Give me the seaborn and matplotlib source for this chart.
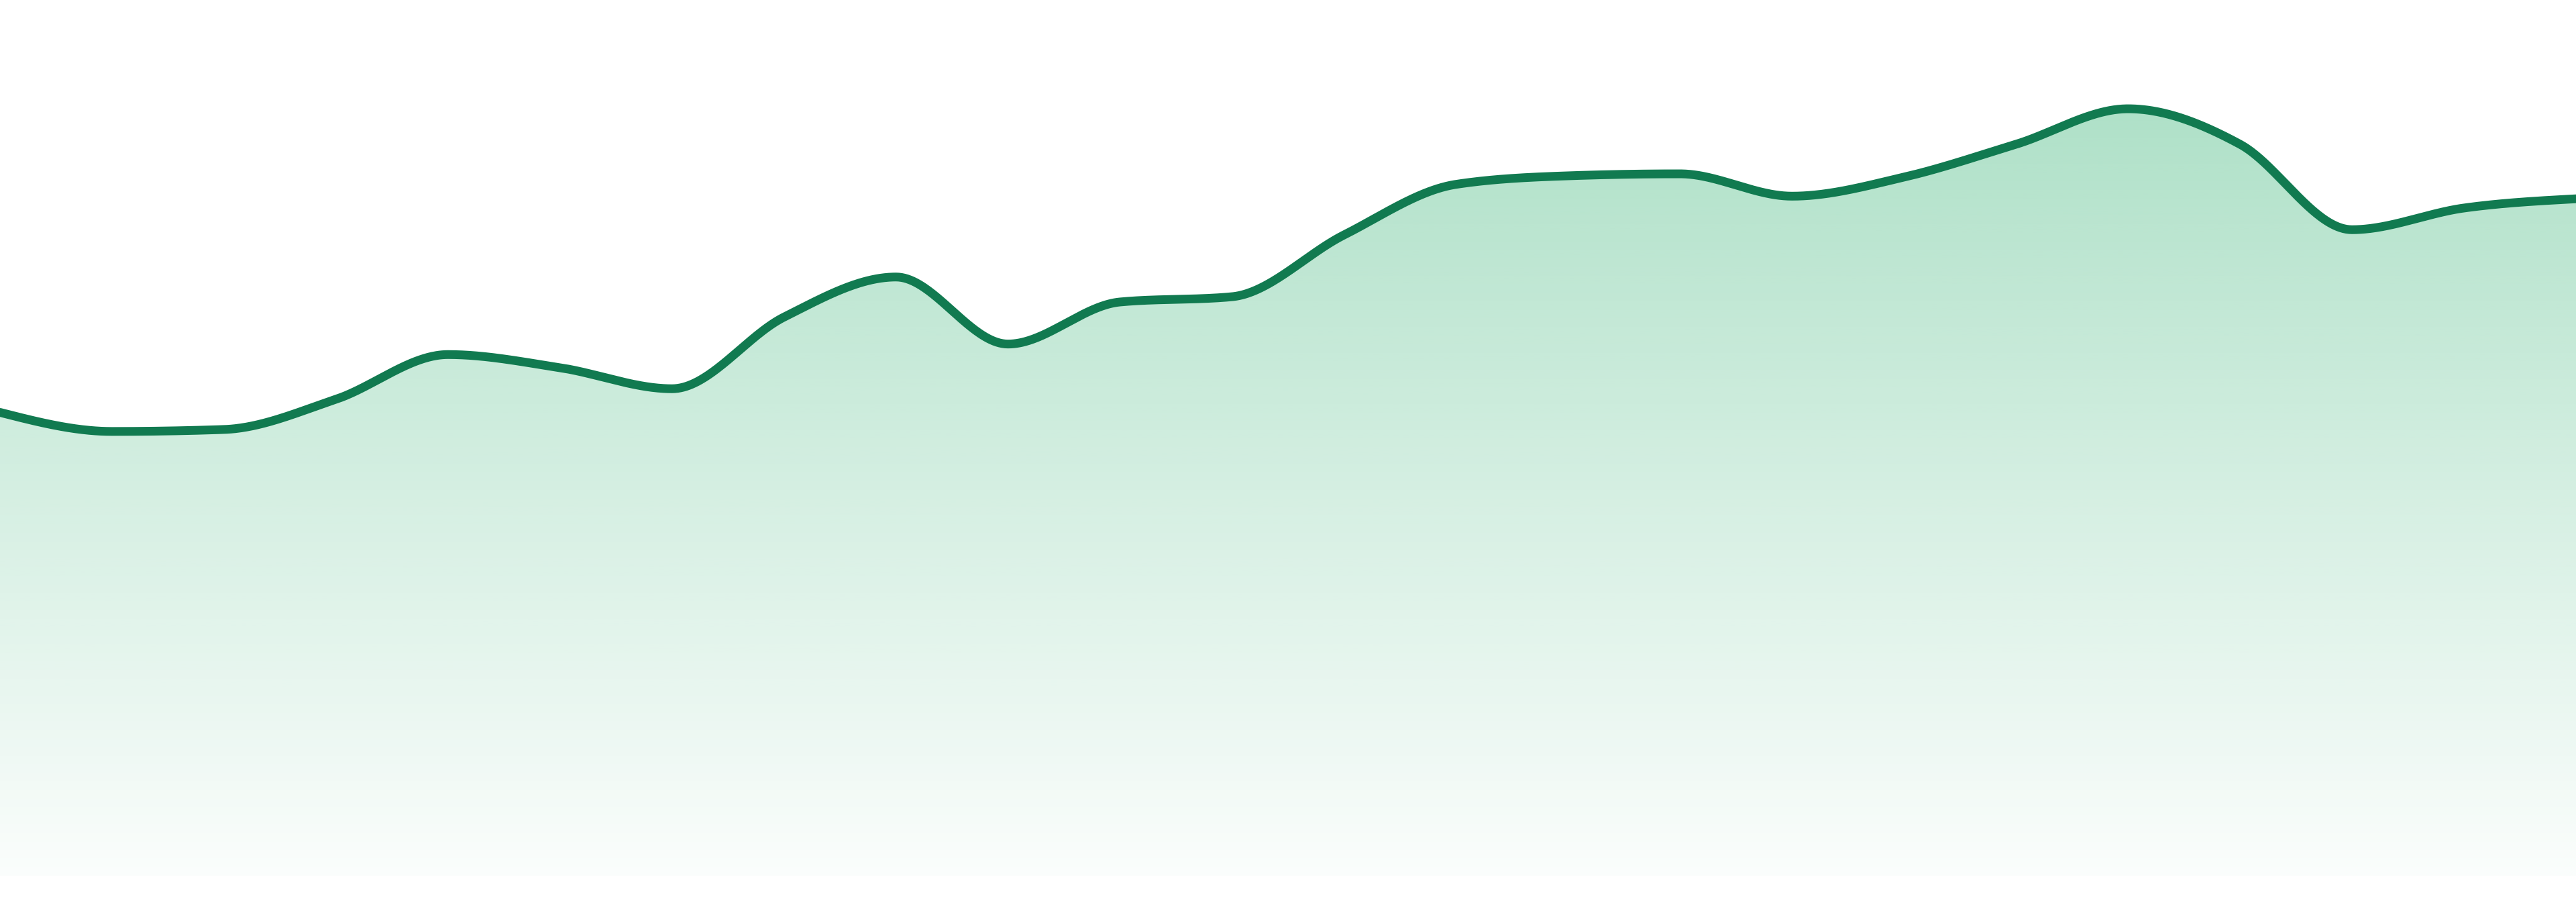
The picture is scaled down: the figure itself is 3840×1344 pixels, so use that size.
"""
Smoothed area chart with a vertical green gradient under the line.
No axes, no text: just the curve and its fill.
"""

import numpy as np
import matplotlib
matplotlib.use("Agg")
import matplotlib.pyplot as plt
from matplotlib.colors import to_rgb
import seaborn as sns

# values, one per step
steps = list(range(24))
values = [70.5, 67.6, 67.9, 72.5, 79.3, 77.3, 74.1, 85.0, 91.1, 80.9, 87.3, 88.1,
          97.5, 105.2, 106.5, 106.8, 103.4, 106.3, 111.3, 116.7, 111.3, 98.3, 101.6, 103.0]

LINE_COLOR = "#117a50"
FILL_COLOR = "#26ad6a"
W, H, DPI = 3840, 1344, 240
Y_MIN, Y_MAX = -4.0, 133.25


def monotone_curve(xv, yv, n=80):
    """Monotone cubic smoothing (no overshoot between points)."""
    x = np.asarray(xv, float)
    y = np.asarray(yv, float)
    k = len(x)
    h = np.diff(x)
    s = np.diff(y) / h
    m = np.zeros(k)
    for i in range(1, k - 1):
        h0, h1 = h[i - 1], h[i]
        s0, s1 = s[i - 1], s[i]
        p = (s0 * h1 + s1 * h0) / (h0 + h1)
        m[i] = (np.sign(s0) + np.sign(s1)) * min(abs(s0), abs(s1), 0.5 * abs(p))
    m[0] = (3 * s[0] - m[1]) / 2
    m[-1] = (3 * s[-1] - m[-2]) / 2
    u = np.linspace(0, 1, n)
    out_x, out_y = [], []
    for i in range(k - 1):
        dx = h[i]
        h00 = 2 * u**3 - 3 * u**2 + 1
        h10 = u**3 - 2 * u**2 + u
        h01 = -2 * u**3 + 3 * u**2
        h11 = u**3 - u**2
        seg_y = h00 * y[i] + h10 * dx * m[i] + h01 * y[i + 1] + h11 * dx * m[i + 1]
        seg_x = x[i] + u * dx
        if i > 0:
            seg_x, seg_y = seg_x[1:], seg_y[1:]
        out_x.append(seg_x)
        out_y.append(seg_y)
    return np.concatenate(out_x), np.concatenate(out_y)


sns.set_theme(style="white")

fig = plt.figure(figsize=(W / DPI, H / DPI), dpi=DPI)
ax = fig.add_axes([0, 0, 1, 1])

xs, ys = monotone_curve(steps, values)

# gradient fill clipped to the area under the curve
top = max(values)
rgb = to_rgb(FILL_COLOR)
rows = 400
alpha = np.linspace(0.02, 0.37, rows)
grad = np.zeros((rows, 2, 4))
grad[..., 0], grad[..., 1], grad[..., 2] = rgb
grad[..., 3] = alpha[:, None]
poly = ax.fill_between(xs, 0, ys, facecolor="none", edgecolor="none")
img = ax.imshow(grad, extent=[steps[0], steps[-1], 0, top], origin="lower",
                aspect="auto", interpolation="bilinear", zorder=1)
img.set_clip_path(poly.get_paths()[0], transform=ax.transData)

sns.lineplot(x=xs, y=ys, sort=False, estimator=None, color=LINE_COLOR,
             linewidth=3.9, ax=ax, zorder=3)
ax.lines[-1].set_solid_capstyle("round")
ax.lines[-1].set_solid_joinstyle("round")

ax.set_xlim(steps[0], steps[-1])
ax.set_ylim(Y_MIN, Y_MAX)
ax.axis("off")

fig.savefig("out.png", dpi=DPI, facecolor="white")
plt.close(fig)
